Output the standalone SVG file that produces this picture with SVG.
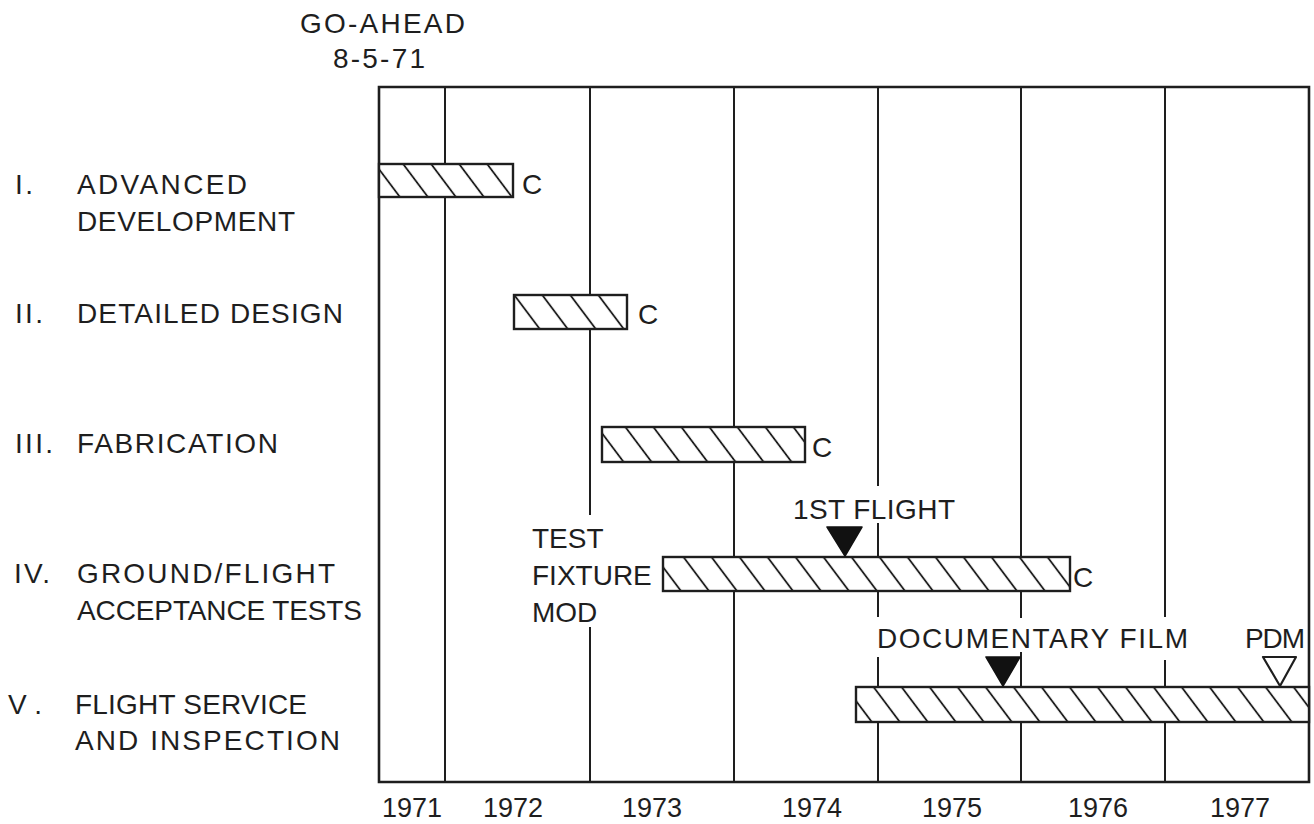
<svg xmlns="http://www.w3.org/2000/svg" width="1314" height="824" viewBox="0 0 1314 824">
<style>
text{font-family:"Liberation Sans",Arial,sans-serif;font-size:28px;fill:#1e1e1e}
.yr{text-anchor:middle;font-size:27px}
.grid{stroke:#1e1e1e;stroke-width:2;fill:none}
.frame{stroke:#1e1e1e;stroke-width:2.6;fill:none}
.bar{stroke:#1e1e1e;stroke-width:2.4}
.hl{stroke:#1e1e1e;stroke-width:2.3}
.tri{fill:#111;stroke:#111;stroke-width:1.5;stroke-linejoin:round}
.open{fill:#fff;stroke:#1e1e1e;stroke-width:2.2;stroke-linejoin:round}
</style>
<defs>
<pattern id="h1" patternUnits="userSpaceOnUse" width="28" height="40" patternTransform="translate(14,0) skewX(36.9)"><rect width="28" height="40" fill="#fff"/><line class="hl" x1="14" y1="-2" x2="14" y2="42"/></pattern>
<pattern id="h2" patternUnits="userSpaceOnUse" width="28" height="40" patternTransform="translate(26.75,0) skewX(36.9)"><rect width="28" height="40" fill="#fff"/><line class="hl" x1="14" y1="-2" x2="14" y2="42"/></pattern>
<pattern id="h3" patternUnits="userSpaceOnUse" width="28" height="40" patternTransform="translate(10.75,0) skewX(36.9)"><rect width="28" height="40" fill="#fff"/><line class="hl" x1="14" y1="-2" x2="14" y2="42"/></pattern>
<pattern id="h4" patternUnits="userSpaceOnUse" width="28" height="40" patternTransform="translate(27.25,0) skewX(36.9)"><rect width="28" height="40" fill="#fff"/><line class="hl" x1="14" y1="-2" x2="14" y2="42"/></pattern>
<pattern id="h5" patternUnits="userSpaceOnUse" width="28" height="40" patternTransform="translate(7.75,0) skewX(36.9)"><rect width="28" height="40" fill="#fff"/><line class="hl" x1="14" y1="-2" x2="14" y2="42"/></pattern>
</defs>
<rect width="1314" height="824" fill="#fff"/>

<g id="go-ahead">
<text x="300" y="33" textLength="165" lengthAdjust="spacing">GO-AHEAD</text>
<text x="333" y="68" textLength="92" lengthAdjust="spacing">8-5-71</text>
</g>

<g id="connectors">
<path class="grid" d="M445 87V782M590 87V515M590 627V782M734 87V782M878 87V486M878 523V617M878 657V782M1021 87V618M1021 652V782M1165 87V617M1165 660V782"/>
<path class="frame" d="M379 87H1309V782H379Z"/>
</g>

<g id="phase-1">
<text x="15" y="194" textLength="18" lengthAdjust="spacing">I.</text>
<text x="77" y="194" textLength="170" lengthAdjust="spacing">ADVANCED</text>
<text x="77" y="231" textLength="218" lengthAdjust="spacing">DEVELOPMENT</text>
<rect class="bar" x="379" y="164" width="134" height="33" fill="url(#h1)"/>
<text x="522" y="194">C</text>
</g>

<g id="phase-2">
<text x="15" y="323" textLength="28" lengthAdjust="spacing">II.</text>
<text x="77" y="323" textLength="266" lengthAdjust="spacing">DETAILED DESIGN</text>
<rect class="bar" x="514" y="295" width="113" height="34" fill="url(#h2)"/>
<text x="638" y="324">C</text>
</g>

<g id="phase-3">
<text x="15" y="453" textLength="38" lengthAdjust="spacing">III.</text>
<text x="77" y="453" textLength="201" lengthAdjust="spacing">FABRICATION</text>
<rect class="bar" x="602" y="427" width="203" height="35" fill="url(#h3)"/>
<text x="812" y="457">C</text>
</g>

<g id="phase-4">
<text x="14" y="583" textLength="36" lengthAdjust="spacing">IV.</text>
<text x="77" y="583" textLength="258" lengthAdjust="spacing">GROUND/FLIGHT</text>
<text x="77" y="620" textLength="285" lengthAdjust="spacing">ACCEPTANCE TESTS</text>
<text x="532" y="548">TEST</text>
<text x="532" y="585">FIXTURE</text>
<text x="532" y="622">MOD</text>
<rect class="bar" x="663" y="557" width="407" height="34" fill="url(#h4)"/>
<text x="1073" y="587">C</text>
</g>

<g id="first-flight">
<text x="793" y="519" textLength="162" lengthAdjust="spacing">1ST FLIGHT</text>
<polygon class="tri" points="827,527 862,527 845,556"/>
</g>

<g id="phase-5">
<text x="8" y="714" textLength="34" lengthAdjust="spacing">V.</text>
<text x="75" y="714" textLength="232" lengthAdjust="spacing">FLIGHT SERVICE</text>
<text x="75" y="750" textLength="265" lengthAdjust="spacing">AND INSPECTION</text>
<rect class="bar" x="856" y="687" width="453" height="35" fill="url(#h5)"/>
</g>

<g id="documentary-film">
<text x="877" y="648" textLength="311" lengthAdjust="spacing">DOCUMENTARY FILM</text>
<polygon class="tri" points="986,657 1020,657 1003,686"/>
</g>

<g id="pdm">
<text x="1245" y="648" textLength="60" lengthAdjust="spacing">PDM</text>
<polygon class="open" points="1263,657 1296,657 1280,686"/>
</g>

<g id="axis">
<text class="yr" x="412" y="817">1971</text>
<text class="yr" x="513" y="817">1972</text>
<text class="yr" x="652" y="817">1973</text>
<text class="yr" x="812" y="817">1974</text>
<text class="yr" x="952" y="817">1975</text>
<text class="yr" x="1098" y="817">1976</text>
<text class="yr" x="1240" y="817">1977</text>
</g>
</svg>
